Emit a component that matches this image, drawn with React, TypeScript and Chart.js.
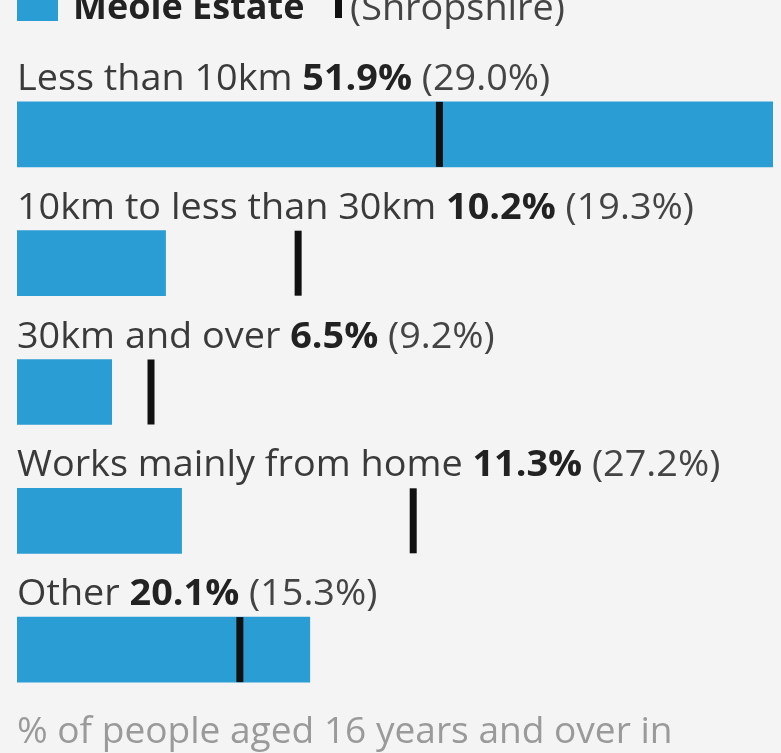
import React, { useEffect, useRef } from "react";
import { Chart, registerables } from "chart.js";

Chart.register(...registerables);

const categories = [
  "Less than 10km",
  "10km to less than 30km",
  "30km and over",
  "Works mainly from home",
  "Other",
];
const meoleValues = [51.9, 10.2, 6.5, 11.3, 20.1];
const shropshireValues = [29.0, 19.3, 9.2, 27.2, 15.3];
const seriesName = "Meole Estate";
const compareName = "(Shropshire)";
const footerText = "% of people aged 16 years and over in";

const BLUE = "#2a9dd5";
const BG = "#f4f4f4";
const FONT = "'Open Sans', 'Noto Sans', sans-serif";
const FS = 36;
const SX = 1.05;

function drawText(ctx: any, text: string, x: number, y: number, weight: number, color: string, sx = SX) {
  ctx.save();
  ctx.font = `${weight} ${FS}px ${FONT}`;
  ctx.fillStyle = color;
  ctx.textAlign = "left";
  ctx.textBaseline = "alphabetic";
  ctx.translate(x, y);
  ctx.scale(sx, 1);
  ctx.fillText(text, 0, 0);
  const w = ctx.measureText(text).width * sx;
  ctx.restore();
  return w;
}

const overlayPlugin = {
  id: "overlay",
  afterDatasetsDraw(chart: any) {
    const { ctx, scales } = chart;
    const meta = chart.getDatasetMeta(0);
    const xs = scales.x;
    ctx.save();
    meta.data.forEach((bar: any, i: number) => {
      const top = bar.y - bar.height / 2;
      const baseY = top - 12;
      let x = xs.left;
      x += drawText(ctx, categories[i] + " ", x, baseY, 400, "#3a3a3a");
      x += drawText(ctx, meoleValues[i].toFixed(1) + "%", x, baseY, 700, "#222");
      drawText(ctx, " (" + shropshireValues[i].toFixed(1) + "%)", x, baseY, 400, "#444");
      const mx = xs.getPixelForValue(shropshireValues[i]);
      ctx.fillStyle = "#111";
      ctx.fillRect(mx - 3.5, top, 7, bar.height);
    });
    // legend (partially cut at top)
    ctx.fillStyle = BLUE;
    ctx.fillRect(17, -20, 41, 41);
    drawText(ctx, seriesName, 73, 19, 700, "#222", 1.0);
    ctx.fillStyle = "#111";
    ctx.fillRect(335, -10, 7, 28);
    drawText(ctx, compareName, 350, 20, 400, "#444");
    // footer
    drawText(ctx, footerText, 17, 743, 400, "#9a9a9a", 1.03);
    ctx.restore();
  },
};

export default function App() {
  const ref = useRef<HTMLCanvasElement>(null);
  useEffect(() => {
    if (!ref.current) return;
    const chart = new Chart(ref.current, {
      type: "bar",
      data: {
        labels: categories,
        datasets: [
          {
            label: seriesName,
            data: meoleValues,
            backgroundColor: BLUE,
            borderWidth: 0,
            barThickness: 65,
          },
        ],
      },
      options: {
        indexAxis: "y",
        animation: false,
        responsive: false,
        maintainAspectRatio: false,
        layout: { padding: { left: 17, right: 8, top: 70, bottom: 39 } },
        scales: {
          x: { display: false, min: 0, max: 51.9 },
          y: { display: false },
        },
        plugins: {
          legend: { display: false },
          tooltip: { enabled: false },
        },
      },
      plugins: [overlayPlugin],
    });
    return () => chart.destroy();
  }, []);
  return (
    <div
      style={{
        position: "fixed",
        left: 0,
        top: 0,
        width: 781,
        height: 753,
        background: BG,
      }}
    >
      <canvas ref={ref} width={781} height={753} style={{ display: "block" }} />
    </div>
  );
}
